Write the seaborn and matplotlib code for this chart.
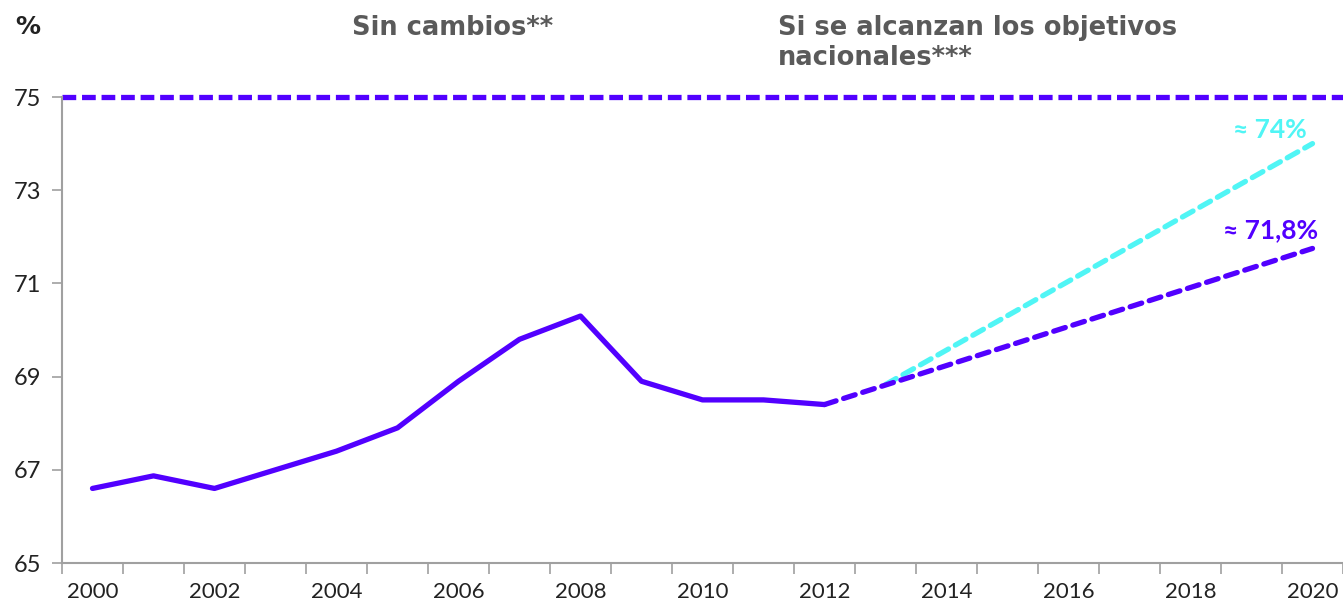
import numpy as np
import pandas as pd
import matplotlib
matplotlib.use("Agg")
import matplotlib.pyplot as plt
import seaborn as sns

# ---------- DATA ----------
years_hist = [2000, 2001, 2002, 2003, 2004, 2005, 2006, 2007, 2008, 2009, 2010, 2011, 2012]
rate_hist = [66.6, 66.87, 66.6, 67.0, 67.4, 67.9, 68.9, 69.8, 70.3, 68.9, 68.5, 68.5, 68.4]

years_nochange = [2012, 2020]
rate_nochange = [68.4, 71.75]

years_targets = [2013, 2020]
rate_targets = [68.83, 74.0]

target_eu = 75
year_ticks = [2000, 2002, 2004, 2006, 2008, 2010, 2012, 2014, 2016, 2018, 2020]
y_ticks = [65, 67, 69, 71, 73, 75]

PURPLE = "#5200ff"
CYAN = "#50f5f5"
GREY = "#5a5a5a"
AXIS = "#a0a0a0"
DASH = (0, (2.3, 1.5))
DASH_H = (0, (2.6, 1.1))

# ---------- PLOT ----------
sns.set_style("white")
plt.rcParams["font.family"] = ["DejaVu Sans"]

fig = plt.figure(figsize=(13.43, 6.13), dpi=100)
ax = fig.add_axes([62 / 1343, 50 / 613, 1 - 62 / 1343, (563 - 97) / 613])

hist = pd.DataFrame({"year": years_hist, "rate": rate_hist})
nochange = pd.DataFrame({"year": years_nochange, "rate": rate_nochange})
targets = pd.DataFrame({"year": years_targets, "rate": rate_targets})

# projection lines first so the historic line sits on top
sns.lineplot(data=targets, x="year", y="rate", color=CYAN, linewidth=3.8, ax=ax)
sns.lineplot(data=nochange, x="year", y="rate", color=PURPLE, linewidth=3.8, ax=ax)
sns.lineplot(data=hist, x="year", y="rate", color=PURPLE, linewidth=3.8, ax=ax)
for line in ax.lines[:2]:
    line.set_linestyle(DASH)
    line.set_dash_capstyle("round")

ax.axhline(target_eu, color=PURPLE, linewidth=3.8, linestyle=DASH_H, clip_on=False)

ax.set_xlim(1999.5, 2020.46)
ax.set_ylim(65, 75)
ax.set_xlabel("")
ax.set_ylabel("")

sns.despine(ax=ax, top=True, right=True)
for side in ["left", "bottom"]:
    ax.spines[side].set_color(AXIS)
    ax.spines[side].set_linewidth(1.5)

ax.set_yticks(y_ticks)
ax.tick_params(axis="y", left=True, length=7, width=1.2, color=AXIS,
               labelsize=17, labelcolor="#222222", pad=8)
for t in ax.get_yticklabels():
    t.set_family("Lato")

ax.set_xticks(year_ticks)
ax.set_xticklabels([str(y) for y in year_ticks], family="Lato", fontsize=16,
                   color="#222222")
ax.set_xticks(np.arange(1999.5, 2020.6, 1), minor=True)
ax.tick_params(axis="x", which="major", bottom=True, length=0, pad=14)
ax.tick_params(axis="x", which="minor", bottom=True, length=8, width=1.2,
               color=AXIS, direction="out")

# ---------- TEXT ----------
fig.text(15 / 1343, 1 - 27 / 613, "%", fontsize=18, fontweight="bold",
         color="#222222", va="center")
fig.text(352 / 1343, 1 - 28 / 613, "Sin cambios**", fontsize=18.5,
         fontweight="bold", color=GREY, va="center")
fig.text(778 / 1343, 1 - 28 / 613, "Si se alcanzan los objetivos",
         fontsize=18.5, fontweight="bold", color=GREY, va="center")
fig.text(778 / 1343, 1 - 58 / 613, "nacionales***",
         fontsize=18.5, fontweight="bold", color=GREY, va="center")
ax.text(2019.9, 74.29, "≈ 74%", fontsize=19, fontweight="bold",
        family="Lato", color=CYAN, ha="right", va="center")
ax.text(2020.1, 72.15, "≈ 71,8%", fontsize=19, fontweight="bold",
        family="Lato", color=PURPLE, ha="right", va="center")

fig.savefig("out.png", dpi=100)
